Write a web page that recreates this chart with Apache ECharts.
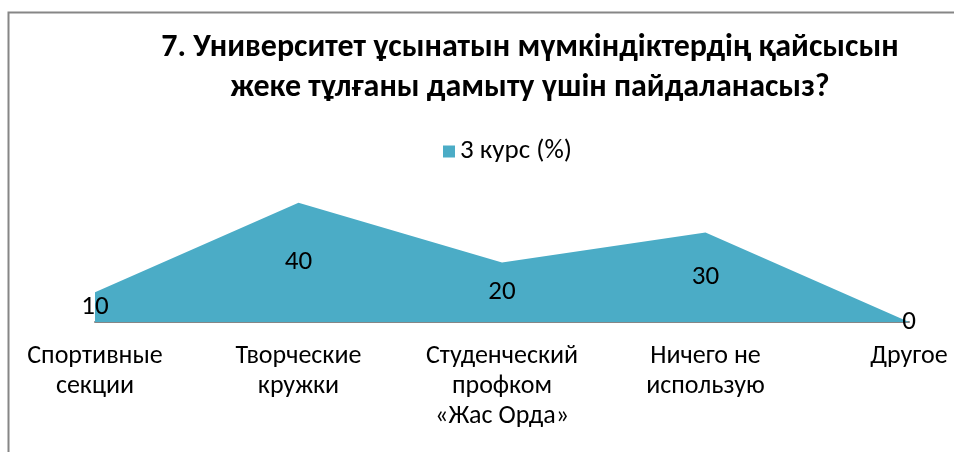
<!DOCTYPE html>
<html><head><meta charset="utf-8">
<script src="https://cdn.jsdelivr.net/npm/echarts@6/dist/echarts.min.js"></script>
<style>html,body{margin:0;padding:0;background:#fff}#c{width:954px;height:452px}</style>
</head><body><div id="c"></div>
<script>
const titleLines = ['7. Университет ұсынатын мүмкіндіктердің қайсысын', 'жеке тұлғаны дамыту үшін пайдаланасыз?'];
const seriesName = '3 курс (%)';
const categories = ['Спортивные\nсекции', 'Творческие\nкружки', 'Студенческий\nпрофком\n«Жас Орда»', 'Ничего не\nиспользую', 'Другое'];
const values = [10, 40, 20, 30, 0];
const FONT = "Carlito, Lato, 'Noto Sans', sans-serif";
const chart = echarts.init(document.getElementById('c'));
chart.setOption({
  animation: false,
  backgroundColor: '#fff',
  title: {
    text: titleLines.join('\n'), left: 525, top: 23, textAlign: 'center',
    textStyle: { fontFamily: FONT, fontWeight: 'bold', fontSize: 32, lineHeight: 40, color: '#000' }
  },
  legend: {
    data: [seriesName], top: 138, left: 443, padding: 0, icon: 'rect', itemWidth: 12, itemHeight: 12, itemGap: 6,
    textStyle: { fontFamily: FONT, fontSize: 27, color: '#000' }
  },
  graphic: [{ type: 'rect', shape: { x: 8.5, y: 12.5, width: 1000, height: 500 }, style: { fill: 'none', stroke: '#868686', lineWidth: 2 }, silent: true }],
  grid: { left: 95, right: 45, top: 173, bottom: 130 },
  xAxis: {
    type: 'category', data: categories, boundaryGap: false,
    axisLine: { lineStyle: { color: '#868686', width: 2 } }, axisTick: { show: false },
    axisLabel: { interval: 0, margin: 19, fontFamily: FONT, fontSize: 26, lineHeight: 30, color: '#000', verticalAlign: 'top' }
  },
  yAxis: { type: 'value', min: 0, max: 50, show: false, splitLine: { show: false } },
  series: [
    { name: seriesName, type: 'line', data: values, symbol: 'none', color: '#4BACC6',
      lineStyle: { width: 0 }, areaStyle: { color: '#4BACC6', opacity: 1 } },
    { type: 'custom', data: values.map((v, i) => [i, v]), silent: true, z: 10,
      renderItem: function (params, api) {
        const top = api.coord([api.value(0), api.value(1)]);
        const bot = api.coord([api.value(0), 0]);
        return { type: 'text', style: { text: String(api.value(1)), x: top[0], y: (top[1] + bot[1]) / 2,
          textAlign: 'center', textVerticalAlign: 'middle', fontFamily: FONT, fontSize: 27, fill: '#000' } };
      } }
  ]
});
</script></body></html>
